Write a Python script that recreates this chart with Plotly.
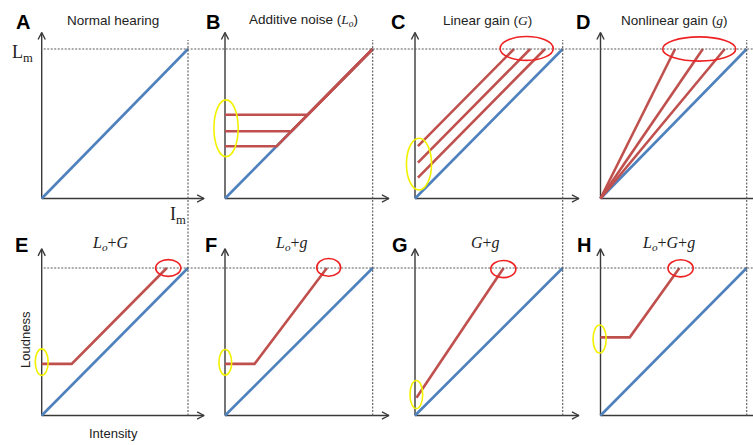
import plotly.graph_objects as go

W, H = 753, 445

# ---------------- data (normalised: intensity / I_m, loudness / L_m) ----------------
panel_letters = ["A", "B", "C", "D", "E", "F", "G", "H"]
panel_titles = [
    "Normal hearing",
    "Additive noise (<span style='font-family:Liberation Serif'><i>L<sub>o</sub></i></span>)",
    "Linear gain (<span style='font-family:Liberation Serif'><i>G</i></span>)",
    "Nonlinear gain (<span style='font-family:Liberation Serif'><i>g</i></span>)",
    "<i>L<sub>o</sub></i>+<i>G</i>",
    "<i>L<sub>o</sub></i>+<i>g</i>",
    "<i>G</i>+<i>g</i>",
    "<i>L<sub>o</sub></i>+<i>G</i>+<i>g</i>",
]
normal_intensity = [0.0, 1.0]
normal_loudness = [0.0, 1.0]

noise_floors_B = [0.56, 0.45, 0.35]            # L_o levels
linear_gains_C = [0.33, 0.22, 0.12]            # G offsets
gain_start_C = 0.02
nonlinear_end_intensity_D = [0.51, 0.70, 0.85]  # intensity where loudness reaches L_m

E_noise, E_gain = 0.35, 0.145
F_noise, F_knee, F_end = 0.35, 0.20, 0.69
G_start_x, G_start_y, G_end = 0.01, 0.12, 0.60
H_noise, H_knee, H_end = 0.53, 0.20, 0.54

# ---------------- layout geometry (pixels) ----------------
col_origin = [41.7, 225.0, 415.0, 600.5]
col_end = [188.0, 372.7, 562.7, 746.7]
row_origin = [198.5, 415.5]
row_end = [49.0, 268.0]
col_box = [(0, 212), (185, 402), (375, 592), (565, 753)]
row_box = [(0, 222), (222, 445)]

BLUE = "#4F81BD"
RED = "#C0504D"
AXC = "#3a3a3a"
DASHC = "#5a5a5a"
SANS = "Liberation Sans"
SERIF = "Liberation Serif"

fig = go.Figure()
layout = dict(width=W, height=H, margin=dict(l=0, r=0, t=0, b=0),
              paper_bgcolor="white", plot_bgcolor="rgba(0,0,0,0)",
              showlegend=False)
annotations = []
shapes = []
scale = {}


def px(xp):
    return xp / W


def py(yp):
    return 1 - yp / H


# build 8 subplots
for k in range(8):
    r, c = divmod(k, 4)
    ox, ex = col_origin[c], col_end[c]
    oy, ey = row_origin[r], row_end[r]
    sx, sy = ex - ox, oy - ey
    scale[k] = (sx, sy)
    bl, br = col_box[c]
    bt, bb = row_box[r]
    n = "" if k == 0 else str(k + 1)
    layout["xaxis" + n] = dict(domain=[px(bl), px(br)],
                               range=[(bl - ox) / sx, (br - ox) / sx],
                               visible=False, fixedrange=True, anchor="y" + n)
    layout["yaxis" + n] = dict(domain=[py(bb), py(bt)],
                               range=[(oy - bb) / sy, (oy - bt) / sy],
                               visible=False, fixedrange=True, anchor="x" + n)


def ax_names(k):
    n = "" if k == 0 else str(k + 1)
    return "x" + n, "y" + n


def add_line(k, xs, ys, color, width=2.6):
    xa, ya = ax_names(k)
    fig.add_trace(go.Scatter(x=xs, y=ys, mode="lines", xaxis=xa, yaxis=ya,
                             line=dict(color=color, width=width),
                             hoverinfo="skip"))


def add_ellipse(k, cx, cy, rx, ry, color, width=1.6):
    xa, ya = ax_names(k)
    shapes.append(dict(type="circle", xref=xa, yref=ya,
                       x0=cx - rx, x1=cx + rx, y0=cy - ry, y1=cy + ry,
                       line=dict(color=color, width=width),
                       fillcolor="rgba(0,0,0,0)", layer="above"))


# axes with open arrowheads
for k in range(8):
    r, c = divmod(k, 4)
    sx, sy = scale[k]
    ytip = 1.11 if r == 0 else 1.13
    xtip = 1.11
    hl, hw = 7.0, 3.6  # arrowhead length / half-width in px
    add_line(k, [0, xtip], [0, 0], AXC, 1.4)
    add_line(k, [0, 0], [0, ytip], AXC, 1.4)
    add_line(k, [xtip - hl / sx, xtip, xtip - hl / sx], [hw / sy, 0, -hw / sy], AXC, 1.4)
    add_line(k, [-hw / sx, 0, hw / sx], [ytip - hl / sy, ytip, ytip - hl / sy], AXC, 1.4)

# reference (dashed) lines at L_m and I_m
for r in range(2):
    k0 = r * 4
    _, ya = ax_names(k0)
    shapes.append(dict(type="line", xref="paper", yref=ya,
                       x0=px(col_origin[0] + 2), x1=1, y0=1, y1=1,
                       line=dict(color=DASHC, width=1.1, dash="2px,1.5px")))
for c in range(4):
    xa, _ = ax_names(c)
    shapes.append(dict(type="line", xref=xa, yref="paper",
                       x0=1, x1=1, y0=py(row_origin[1]), y1=py(40),
                       line=dict(color=DASHC, width=1.1, dash="2px,1.5px")))

# normal-hearing diagonal
for k in range(8):
    add_line(k, normal_intensity, normal_loudness, BLUE)

# B: additive noise
for L in noise_floors_B:
    add_line(1, [0, L, 1], [L, L, 1], RED)
# C: linear gain
for g in linear_gains_C:
    add_line(2, [gain_start_C, 1 - g], [gain_start_C + g, 1], RED)
# D: nonlinear gain
for e in nonlinear_end_intensity_D:
    add_line(3, [0, e], [0, 1], RED)
# E: Lo + G
add_line(4, [0, E_noise - E_gain, 1 - E_gain], [E_noise, E_noise, 1], RED)
# F: Lo + g
add_line(5, [0, F_knee, F_end], [F_noise, F_noise, 1], RED)
# G: G + g
add_line(6, [G_start_x, G_end], [G_start_y, 1], RED)
# H: Lo + G + g
add_line(7, [0, H_knee, H_end], [H_noise, H_noise, 1], RED)

# highlight ellipses
YEL = "#F2F200"
RED_E = "#EE2222"
add_ellipse(1, 0.007, 0.47, 0.082, 0.19, YEL)
add_ellipse(2, 0.027, 0.23, 0.085, 0.173, YEL)
add_ellipse(2, 0.756, 1.004, 0.18, 0.08, RED_E)
add_ellipse(3, 0.675, 1.0, 0.25, 0.081, RED_E)
add_ellipse(4, 0.0, 0.362, 0.044, 0.09, YEL)
add_ellipse(4, 0.865, 1.0, 0.086, 0.057, RED_E)
add_ellipse(5, 0.002, 0.36, 0.043, 0.087, YEL)
add_ellipse(5, 0.702, 1.004, 0.081, 0.06, RED_E)
add_ellipse(6, 0.009, 0.142, 0.043, 0.095, YEL)
add_ellipse(6, 0.598, 0.993, 0.085, 0.058, RED_E)
add_ellipse(7, -0.006, 0.519, 0.045, 0.095, YEL)
add_ellipse(7, 0.548, 0.998, 0.086, 0.058, RED_E)

# text: letters and titles
letter_pos = [(22.5, 21.5), (213, 21.5), (398, 21.5), (582.5, 21.5),
              (21, 245), (211, 245), (400, 245), (584, 245)]
title_pos = [(113, 20), (303, 20), (487.5, 20), (674, 20),
             (110, 243), (291, 243), (485, 243), (668, 243)]
for k in range(8):
    lx, ly = letter_pos[k]
    annotations.append(dict(x=px(lx), y=py(ly), xref="paper", yref="paper",
                            text="<b>%s</b>" % panel_letters[k], showarrow=False,
                            xanchor="center", yanchor="middle",
                            font=dict(family=SANS, size=20, color="black")))
    tx, ty = title_pos[k]
    if k < 4:
        f = dict(family=SANS, size=13.5, color="#222")
    else:
        f = dict(family=SERIF, size=16, color="#222")
    annotations.append(dict(x=px(tx), y=py(ty), xref="paper", yref="paper",
                            text=panel_titles[k], showarrow=False,
                            xanchor="center", yanchor="middle", font=f))

# L_m and I_m labels, axis names
annotations.append(dict(x=px(22), y=py(53), xref="paper", yref="paper",
                        text="L<sub>m</sub>", showarrow=False,
                        xanchor="center", yanchor="middle",
                        font=dict(family=SERIF, size=18, color="#222")))
annotations.append(dict(x=px(178), y=py(216), xref="paper", yref="paper",
                        text="I<sub>m</sub>", showarrow=False,
                        xanchor="center", yanchor="middle",
                        font=dict(family=SERIF, size=18, color="#222")))
annotations.append(dict(x=px(25), y=py(340), xref="paper", yref="paper",
                        text="Loudness", showarrow=False, textangle=-90,
                        xanchor="center", yanchor="middle",
                        font=dict(family=SANS, size=13, color="#222")))
annotations.append(dict(x=px(113), y=py(433), xref="paper", yref="paper",
                        text="Intensity", showarrow=False,
                        xanchor="center", yanchor="middle",
                        font=dict(family=SANS, size=13, color="#222")))

layout["annotations"] = annotations
layout["shapes"] = shapes
fig.update_layout(**layout)
fig.write_html("out.html",
               config={"displayModeBar": False, "staticPlot": True},
               post_script="document.body.style.margin='0';document.body.style.overflow='hidden';")
